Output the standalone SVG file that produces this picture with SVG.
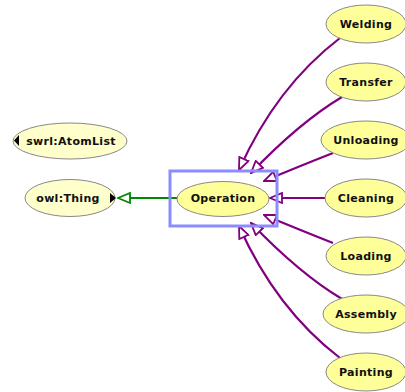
<svg xmlns="http://www.w3.org/2000/svg" width="405" height="392" viewBox="0 0 405 392">
<style>
.n ellipse{fill:#ffff99;stroke:#888;stroke-width:1}
.n.l ellipse{fill:#ffffcc}
.n text{font-family:"DejaVu Sans",sans-serif;font-size:11px;font-weight:bold;fill:#111;text-anchor:middle;dominant-baseline:central;letter-spacing:0.3px}
.e{fill:none;stroke:#800080;stroke-width:2.2;marker-end:url(#ap)}
</style>
<defs>
<marker id="ap" viewBox="0 0 14 12" refX="13" refY="6" markerWidth="14" markerHeight="12" markerUnits="userSpaceOnUse" orient="auto">
<path d="M1,1 L13,6 L1,11 Z" fill="#fff" stroke="#800080" stroke-width="1.8"/>
</marker>
<marker id="ag" viewBox="0 0 14 12" refX="13" refY="6" markerWidth="14" markerHeight="12" markerUnits="userSpaceOnUse" orient="auto">
<path d="M1,1 L13,6 L1,11 Z" fill="#fff" stroke="#008800" stroke-width="1.8"/>
</marker>
</defs>
<rect width="405" height="392" fill="#fff"/>
<g id="connectors">
<path d="M177,198 L118,198" fill="none" stroke="#008800" stroke-width="2.2" marker-end="url(#ag)"/>
<path class="e" d="M340,38 Q276,87 239,170"/>
<path class="e" d="M342,97 Q300,122 251,173"/>
<path class="e" d="M333,153 Q300,166 264,181"/>
<path class="e" d="M325,198 L270,198"/>
<path class="e" d="M333,243 Q300,230 264,215"/>
<path class="e" d="M342,299 Q300,274 251,223"/>
<path class="e" d="M340,358 Q276,309 239,226"/>
</g>
<g id="swrl-AtomList" class="n l"><ellipse cx="70" cy="141" rx="57" ry="18"/><path d="M19,135 L14,140.5 L19,146 Z" fill="#000"/><text x="71" y="141">swrl:AtomList</text></g>
<g id="owl-Thing" class="n l"><ellipse cx="70" cy="198" rx="45" ry="18.5"/><path d="M110,193 L116,198 L110,203 Z" fill="#000"/><text x="68" y="198">owl:Thing</text></g>
<g id="Operation" class="n"><ellipse cx="223" cy="199" rx="46" ry="17.5"/><text x="223" y="198">Operation</text></g>
<rect id="selection" x="170" y="171" width="107" height="55" fill="none" stroke="#8c8cff" stroke-width="3"/>
<g id="Welding" class="n"><ellipse cx="366" cy="24" rx="40" ry="19"/><text x="366" y="24">Welding</text></g>
<g id="Transfer" class="n"><ellipse cx="366" cy="82" rx="40" ry="19"/><text x="366" y="82">Transfer</text></g>
<g id="Unloading" class="n"><ellipse cx="366" cy="140" rx="45" ry="19"/><text x="366" y="140">Unloading</text></g>
<g id="Cleaning" class="n"><ellipse cx="366" cy="198" rx="41" ry="19"/><text x="366" y="198">Cleaning</text></g>
<g id="Loading" class="n"><ellipse cx="366" cy="256" rx="40" ry="19"/><text x="366" y="256">Loading</text></g>
<g id="Assembly" class="n"><ellipse cx="366" cy="314" rx="43" ry="19"/><text x="366" y="314">Assembly</text></g>
<g id="Painting" class="n"><ellipse cx="366" cy="372" rx="40" ry="19"/><text x="366" y="372">Painting</text></g>
</svg>
